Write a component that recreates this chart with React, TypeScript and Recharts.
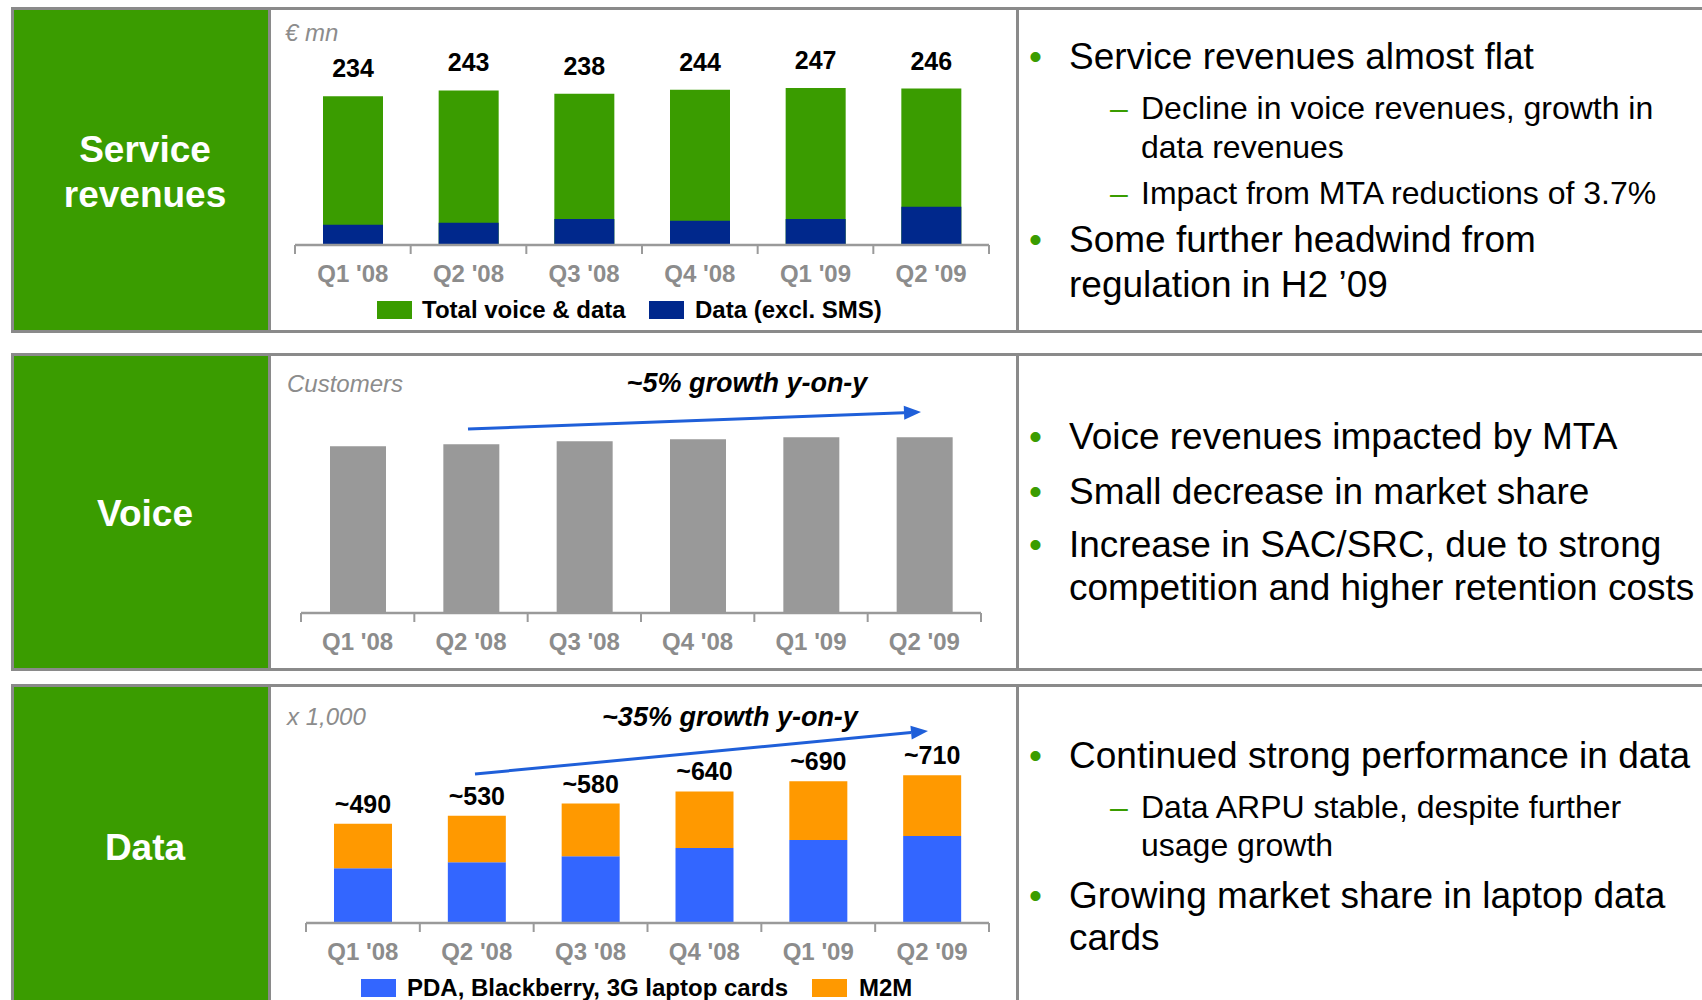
import React from 'react';
import { BarChart, Bar, XAxis, YAxis, LabelList } from 'recharts';

const quarters = ["Q1 '08", "Q2 '08", "Q3 '08", "Q4 '08", "Q1 '09", "Q2 '09"];
const serviceTotal = [234, 243, 238, 244, 247, 246];
const serviceData = [32, 35, 41, 38, 41, 60];
const voiceCustomers = [166, 168, 171, 173, 175, 175];
const dataPda = [270, 300, 330, 370, 410, 430];
const dataM2m = [220, 230, 260, 280, 290, 300];
const dataTotalLabels = ['~490', '~530', '~580', '~640', '~690', '~710'];

const GREEN = '#3A9C00';
const NAVY = '#00288C';
const GREY_BAR = '#999999';
const BLUE = '#3366FF';
const ORANGE = '#FF9900';
const ARROW = '#1F5FD9';
const FRAME = '#8a8a8a';
const AXIS = '#9a9a9a';
const TICK_TEXT = '#8c8c8c';
const FONT = '"Liberation Sans", Arial, sans-serif';

const serviceRows = quarters.map((q, i) => ({ q, total: serviceTotal[i], data: serviceData[i] }));
const voiceRows = quarters.map((q, i) => ({ q, customers: voiceCustomers[i] }));
const dataRows = quarters.map((q, i) => ({ q, pda: dataPda[i], m2m: dataM2m[i] }));

const makeTick = (band: number) => (props: any) => {
  const { x, y, payload, index } = props;
  return (
    <g>
      <line x1={x - band / 2} x2={x - band / 2} y1={y} y2={y + 9} stroke={AXIS} strokeWidth={2} />
      {index === quarters.length - 1 && (
        <line x1={x + band / 2} x2={x + band / 2} y1={y} y2={y + 9} stroke={AXIS} strokeWidth={2} />
      )}
      <text x={x} y={y + 28} textAnchor="middle" dominantBaseline="central"
        fontFamily={FONT} fontWeight="bold" fontSize={24} fill={TICK_TEXT}>
        {payload.value}
      </text>
    </g>
  );
};

const topLabel = (texts: string[], lift: number) => (p: any) => (
  <text x={p.x + p.width / 2} y={p.y - lift} textAnchor="middle"
    fontFamily={FONT} fontWeight="bold" fontSize={25} fill="#000">
    {texts[p.index]}
  </text>
);

const Section = ({ top, height }: { top: number; height: number }) => (
  <>
    <div style={{ position: 'absolute', left: 11, top, width: 1800, height, border: `3px solid ${FRAME}`, boxSizing: 'border-box' }} />
    <div style={{ position: 'absolute', left: 14, top: top + 3, width: 254, height: height - 6, background: GREEN }} />
    <div style={{ position: 'absolute', left: 268, top, width: 3, height, background: FRAME }} />
    <div style={{ position: 'absolute', left: 1016, top, width: 3, height, background: FRAME }} />
  </>
);

const PanelTitle = ({ lines, cy }: { lines: string[]; cy: number }) => (
  <div style={{ position: 'absolute', left: 18, width: 254, top: cy - (lines.length * 45) / 2, textAlign: 'center',
    color: '#fff', fontFamily: FONT, fontWeight: 'bold', fontSize: 37, lineHeight: '45px' }}>
    {lines.map((l) => <div key={l}>{l}</div>)}
  </div>
);

type Line = { y: number; text: string; kind: 'bullet' | 'dash' | 'cont' | 'subcont' };
const textLines: Line[] = [
  { y: 57, text: 'Service revenues almost flat', kind: 'bullet' },
  { y: 108, text: 'Decline in voice revenues, growth in', kind: 'dash' },
  { y: 147, text: 'data revenues', kind: 'subcont' },
  { y: 193, text: 'Impact from MTA reductions of 3.7%', kind: 'dash' },
  { y: 240, text: 'Some further headwind from', kind: 'bullet' },
  { y: 285, text: 'regulation in H2 \u201909', kind: 'cont' },
  { y: 437, text: 'Voice revenues impacted by MTA', kind: 'bullet' },
  { y: 492, text: 'Small decrease in market share', kind: 'bullet' },
  { y: 545, text: 'Increase in SAC/SRC, due to strong', kind: 'bullet' },
  { y: 588, text: 'competition and higher retention costs', kind: 'cont' },
  { y: 756, text: 'Continued strong performance in data', kind: 'bullet' },
  { y: 807, text: 'Data ARPU stable, despite further', kind: 'dash' },
  { y: 845, text: 'usage growth', kind: 'subcont' },
  { y: 896, text: 'Growing market share in laptop data', kind: 'bullet' },
  { y: 938, text: 'cards', kind: 'cont' },
];

const TextLine = ({ l }: { l: Line }) => {
  const sub = l.kind === 'dash' || l.kind === 'subcont';
  const size = sub ? 32 : 37;
  const base: React.CSSProperties = { position: 'absolute', top: l.y - size * 0.6, lineHeight: `${size * 1.2}px`,
    fontFamily: FONT, fontSize: size, whiteSpace: 'nowrap', color: '#000' };
  return (
    <>
      {l.kind === 'bullet' && <div style={{ ...base, left: 1029, color: GREEN }}>•</div>}
      {l.kind === 'dash' && <div style={{ ...base, left: 1110, color: GREEN }}>–</div>}
      <div style={{ ...base, left: sub ? 1141 : 1069 }}>{l.text}</div>
    </>
  );
};

const Arrow = ({ x1, y1, x2, y2 }: { x1: number; y1: number; x2: number; y2: number }) => {
  const dx = x2 - x1, dy = y2 - y1, len = Math.hypot(dx, dy);
  const ux = dx / len, uy = dy / len;
  const bx = x2 - ux * 17, by = y2 - uy * 17;
  const pts = `${x2},${y2} ${bx - uy * 7},${by + ux * 7} ${bx + uy * 7},${by - ux * 7}`;
  return (
    <g>
      <line x1={x1} y1={y1} x2={bx} y2={by} stroke={ARROW} strokeWidth={3} />
      <polygon points={pts} fill={ARROW} />
    </g>
  );
};

const LegendItem = ({ left, top, color, label, textLeft }: { left: number; top: number; color: string; label: string; textLeft: number }) => (
  <>
    <div style={{ position: 'absolute', left, top: top - 9, width: 35, height: 18, background: color }} />
    <div style={{ position: 'absolute', left: textLeft, top: top - 14, lineHeight: '28px', fontFamily: FONT,
      fontWeight: 'bold', fontSize: 24, whiteSpace: 'nowrap' }}>{label}</div>
  </>
);

const unitStyle = (left: number, cy: number): React.CSSProperties => ({
  position: 'absolute', left, top: cy - 14, lineHeight: '28px', fontFamily: FONT, fontStyle: 'italic', fontSize: 24, color: TICK_TEXT,
});
const growthStyle = (cx: number, cy: number): React.CSSProperties => ({
  position: 'absolute', left: cx - 200, width: 400, textAlign: 'center', top: cy - 16, lineHeight: '32px',
  fontFamily: FONT, fontStyle: 'italic', fontWeight: 'bold', fontSize: 27, color: '#000',
});

export default function App() {
  return (
    <div style={{ position: 'absolute', left: 0, top: 0, width: 1702, height: 1000, overflow: 'hidden', background: '#fff' }}>
      <Section top={7} height={326} />
      <Section top={353} height={318} />
      <Section top={684} height={400} />

      <PanelTitle lines={['Service', 'revenues']} cy={172} />
      <PanelTitle lines={['Voice']} cy={513} />
      <PanelTitle lines={['Data']} cy={847} />

      {/* Service revenues */}
      <div style={{ position: 'absolute', left: 271, top: 10 }}>
        <BarChart width={745} height={322} data={serviceRows} barGap={-60}
          margin={{ top: 76, right: 27, bottom: 47, left: 24 }}>
          <YAxis hide domain={[0, 250]} />
          <XAxis dataKey="q" height={40} axisLine={{ stroke: AXIS, strokeWidth: 2.5 }} tickLine={false}
            tickSize={0} tickMargin={0} interval={0} tick={makeTick(694 / 6)} />
          <Bar dataKey="total" fill={GREEN} barSize={60} isAnimationActive={false}>
            <LabelList dataKey="total" content={topLabel(serviceTotal.map(String), 19)} />
          </Bar>
          <Bar dataKey="data" fill={NAVY} barSize={60} isAnimationActive={false} />
        </BarChart>
      </div>
      <div style={unitStyle(285, 33)}>€ mn</div>
      <LegendItem left={377} top={310} color={GREEN} label="Total voice & data" textLeft={422} />
      <LegendItem left={649} top={310} color={NAVY} label="Data (excl. SMS)" textLeft={695} />

      {/* Voice */}
      <div style={{ position: 'absolute', left: 271, top: 356 }}>
        <BarChart width={745} height={312} data={voiceRows}
          margin={{ top: 56, right: 35, bottom: 15, left: 30 }}>
          <YAxis hide domain={[0, 200]} />
          <XAxis dataKey="q" height={40} axisLine={{ stroke: AXIS, strokeWidth: 2.5 }} tickLine={false}
            tickSize={0} tickMargin={0} interval={0} tick={makeTick(680 / 6)} />
          <Bar dataKey="customers" fill={GREY_BAR} barSize={56} isAnimationActive={false} />
        </BarChart>
      </div>
      <div style={unitStyle(287, 384)}>Customers</div>
      <div style={growthStyle(747, 383)}>~5% growth y-on-y</div>

      {/* Data */}
      <div style={{ position: 'absolute', left: 271, top: 687 }}>
        <BarChart width={745} height={313} data={dataRows}
          margin={{ top: 74, right: 27, bottom: 37, left: 35 }}>
          <YAxis hide domain={[0, 800]} />
          <XAxis dataKey="q" height={40} axisLine={{ stroke: AXIS, strokeWidth: 2.5 }} tickLine={false}
            tickSize={0} tickMargin={0} interval={0} tick={makeTick(683 / 6)} />
          <Bar dataKey="pda" stackId="d" fill={BLUE} barSize={58} isAnimationActive={false} />
          <Bar dataKey="m2m" stackId="d" fill={ORANGE} barSize={58} isAnimationActive={false}>
            <LabelList dataKey="m2m" content={topLabel(dataTotalLabels, 11)} />
          </Bar>
        </BarChart>
      </div>
      <div style={unitStyle(287, 717)}>x 1,000</div>
      <div style={growthStyle(730, 717)}>~35% growth y-on-y</div>
      <LegendItem left={361} top={988} color={BLUE} label="PDA, Blackberry, 3G laptop cards" textLeft={407} />
      <LegendItem left={812} top={988} color={ORANGE} label="M2M" textLeft={859} />

      <svg width={1702} height={1000} style={{ position: 'absolute', left: 0, top: 0, pointerEvents: 'none' }}>
        <Arrow x1={468} y1={429} x2={921} y2={412} />
        <Arrow x1={475} y1={774} x2={928} y2={731} />
      </svg>

      {textLines.map((l) => <TextLine key={l.text} l={l} />)}
    </div>
  );
}
